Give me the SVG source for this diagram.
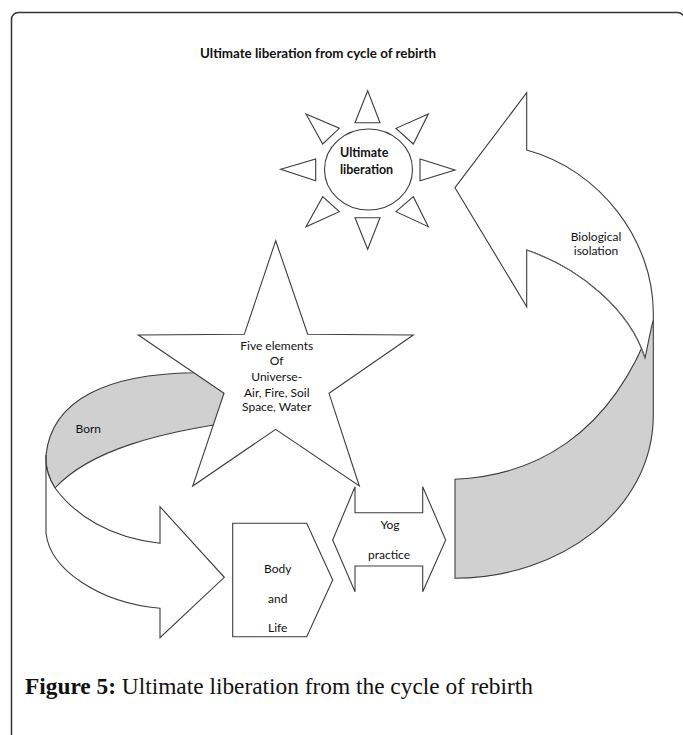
<svg xmlns="http://www.w3.org/2000/svg" width="683" height="735" viewBox="0 0 683 735">
<style>
.ln{fill:#fff;stroke:#3c3c3c;stroke-width:1.1;stroke-linejoin:miter}
.gr{fill:#d0d0d0;stroke:#3c3c3c;stroke-width:1.1}
.thin{fill:none;stroke:#6a6a6a;stroke-width:1}
.t{font-family:Lato,"Liberation Sans",sans-serif;font-size:12px;fill:#111}
.tb{font-family:Lato,"Liberation Sans",sans-serif;font-size:12.5px;font-weight:bold;fill:#111}
.c{text-anchor:middle}
.cap{font-family:"Liberation Serif",serif;font-size:22.5px;fill:#111}
</style>
<rect x="0" y="0" width="683" height="735" fill="#fff"/>
<rect id="frame" x="11.5" y="12.5" width="673" height="745" rx="7" fill="none" stroke="#333" stroke-width="1.5"/>

<g id="title"><text class="tb" x="318" y="58" text-anchor="middle" font-size="12" textLength="236" lengthAdjust="spacingAndGlyphs">Ultimate liberation from cycle of rebirth</text></g>

<g id="connectors">
  <g id="born-arrow">
    <path class="gr" d="M240,369 C215,370 205,371 193.3,372.7 C110,374 52,398 46,455 C45,468 50,480 55,488 C90,450 160,432 240,421 Z"/>
    <path class="ln" d="M46,455 L46,533 C50,570 100,603 160,608.3 L160,637.7 L224.3,577.3 L160,506.7 L160,543.3 C110,538 75,515 55,488 C50,480 45,468 46,455 Z"/>
    <text class="t c" x="88.3" y="432.5">Born</text>
  </g>
  <g id="bio-arrow">
    <path class="gr" d="M455,479.3 C530,476 610,440 653.3,320 L653.3,415 C653.3,510 560,578 455,578.3 Z"/>
    <path class="ln" d="M455,187.7 L526.7,92.7 L526.7,150 C600,170 653.3,240 653.3,313 L653.3,320 C650,332 648,345 645,358 C630,310 580,268 526.7,250 L526.7,306.7 Z"/>
    <path class="thin" d="M526.7,250 C580,268 630,310 645,358"/>
    <text class="t c" x="596" y="241">Biological</text>
    <text class="t c" x="596" y="255">isolation</text>
  </g>
</g>

<g id="sun">
  <ellipse class="ln" cx="368.5" cy="169.5" rx="44" ry="40.5"/>
  <polygon class="ln" points="367.7,90.7 355,122.7 380,122.7"/>
  <polygon class="ln" points="367.7,249.3 355,217.7 380,217.7"/>
  <polygon class="ln" points="280.7,169.3 315.7,159 315.7,180.7"/>
  <polygon class="ln" points="455,170 420,159 420,180.7"/>
  <polygon class="ln" points="306,114 339.3,128.3 322.7,144"/>
  <polygon class="ln" points="428.3,114 396,128.3 413.3,144"/>
  <polygon class="ln" points="306,226.7 322.7,196.7 339.3,211.7"/>
  <polygon class="ln" points="428.3,226.7 413.3,196.7 396,211.7"/>
  <text class="tb" x="340" y="157">Ultimate</text>
  <text class="tb" x="340" y="174">liberation</text>
</g>

<g id="star">
  <polygon class="ln" points="275.7,240.7 307.7,334.3 413.3,335 329,393.3 359.3,486 275.7,429.3 192.7,486 224,393.3 138.3,335 244.3,334.3"/>
  <text class="t c" x="276.7" y="349.5">Five elements</text>
  <text class="t c" x="276.7" y="365">Of</text>
  <text class="t c" x="276.7" y="381">Universe-</text>
  <text class="t c" x="276.7" y="396.5">Air, Fire, Soil</text>
  <text class="t c" x="276.7" y="411">Space, Water</text>
</g>

<g id="body-life">
  <polygon class="ln" points="232.7,523.3 306.7,523.3 332.7,580 306.7,636.7 232.7,636.7"/>
  <text class="t c" x="277.7" y="572.5">Body</text>
  <text class="t c" x="277.7" y="602.5">and</text>
  <text class="t c" x="277.7" y="632">Life</text>
</g>

<g id="yog-practice">
  <polygon class="ln" points="332.7,540 355,486.7 355,512.7 422.7,512.7 422.7,486.7 445.7,540 422.7,591.7 422.7,566 355,566 355,591.7"/>
  <text class="t c" x="390" y="529">Yog</text>
  <text class="t c" x="389" y="559">practice</text>
</g>

<g id="caption">
  <text class="cap" x="25" y="694" textLength="508" lengthAdjust="spacingAndGlyphs"><tspan font-weight="bold">Figure 5:</tspan> Ultimate liberation from the cycle of rebirth</text>
</g>
</svg>
